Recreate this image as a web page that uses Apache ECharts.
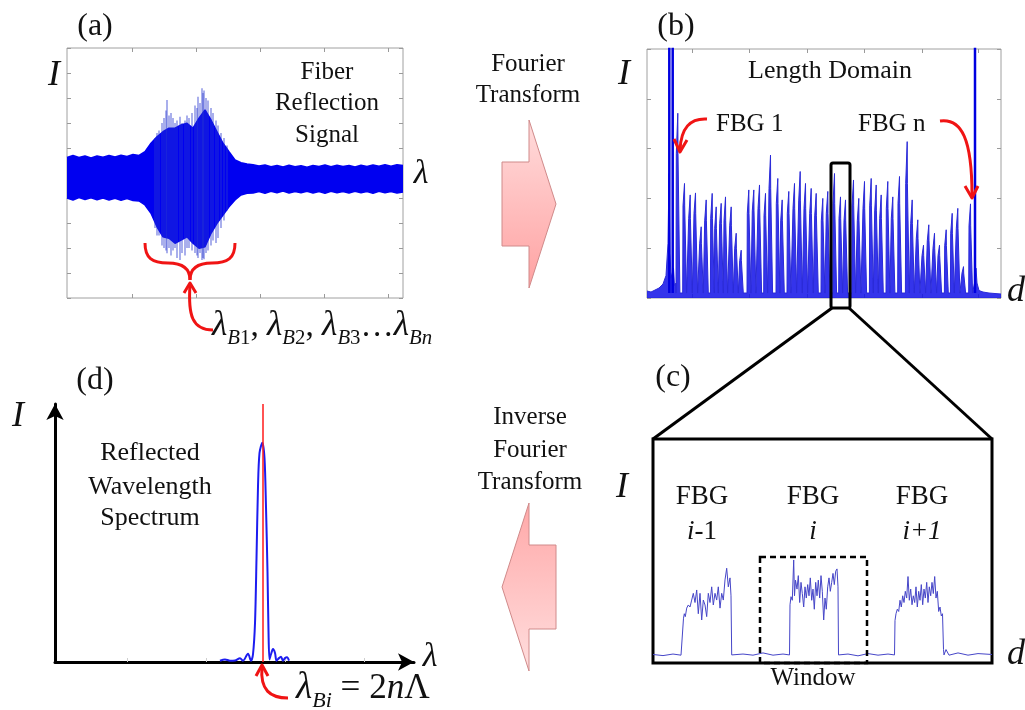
<!DOCTYPE html>
<html>
<head>
<meta charset="utf-8">
<script src="https://cdn.jsdelivr.net/npm/echarts@6/dist/echarts.min.js"></script>
<style>
html,body{margin:0;padding:0;background:#fff}
#main{width:1025px;height:710px}
</style>
</head>
<body>
<div id="main"></div>
<script>
// (a) fiber reflection signal : band envelopes, one value every 6 px along the frame
var aStep = 6
var aUpper = [0.62,0.70,0.62,0.68,0.60,0.68,0.63,0.70,0.64,0.71,0.66,0.74,0.70,
	0.85,1.19,1.45,1.65,1.79,1.79,1.92,1.99,1.79,2.19,2.52,2.12,1.65,1.19,0.85,0.52,0.41,0.36,
	0.33,0.28,0.32,0.25,0.30,0.24,0.31,0.25,0.29,0.23,0.30,0.26,0.32,0.25,0.31,0.26,0.30,0.24,0.31,0.26,0.32,0.27,0.33,0.27,0.33,0.30]
var aLower = [-1.00,-1.08,-0.98,-1.06,-0.99,-1.07,-1.00,-1.08,-1.01,-1.09,-1.02,-1.10,-1.12,
	-1.28,-1.61,-2.15,-2.55,-2.61,-2.81,-2.68,-2.55,-2.81,-3.01,-2.95,-2.41,-2.01,-1.68,-1.35,-1.08,-0.88,-0.81,
	-0.80,-0.74,-0.81,-0.73,-0.79,-0.72,-0.80,-0.74,-0.79,-0.73,-0.80,-0.74,-0.81,-0.73,-0.79,-0.74,-0.80,-0.73,-0.79,-0.74,-0.81,-0.73,-0.79,-0.74,-0.80,-0.76]
// spikes sticking out of the burst
var aSpikeX   = [88,90,92,95,97,99,100,102,104,106,108,110,113,115,118,120,122,125,128,130,131,133,135,136,137,139,141,144,146,149,151,154,157,160]
var aSpikeTop = [1.4,1.6,1.7,2.0,2.2,2.5,2.92,2.3,2.4,2.2,2.0,2.1,2.25,2.0,2.1,2.3,2.2,2.4,2.7,2.6,3.05,2.8,3.39,3.2,3.3,3.0,2.9,2.6,2.4,2.1,1.9,1.6,1.4,1.1]
var aSpikeBot = [-2.2,-2.5,-2.5,-2.9,-3.0,-3.1,-3.21,-3.0,-3.3,-3.1,-3.0,-3.4,-3.48,-3.2,-3.3,-3.0,-3.0,-3.1,-3.2,-3.3,-3.4,-3.2,-3.48,-3.4,-3.45,-3.2,-3.1,-2.9,-2.7,-2.8,-2.6,-2.2,-1.9,-1.5]
var aTicks = [65,129,193,257,321]

// (b) length domain : FBG peaks (position, spike top, plateau level)
var bPeakPos = [31.3,38,43.7,49,54.7,59.7,65.7,69.7,74.7,79,84.7,89.7,94.7,102.3,107.3,113,119,124,131.3,135.7,
	142.3,148,153.7,159,164.7,169.7,176.3,181.3,188,194,199,207,212.3,218,224.7,229.7,234.7,241.3,246.3,253,
	260.7,265.7,271.3,277,282.3,288,293,299.7,305.7,311.3,317,324]
var bSpike = [3.71,2.30,2.07,2.11,1.43,1.97,2.10,1.83,1.90,2.03,1.83,1.30,0.96,2.17,2.17,2.27,2.10,2.87,2.40,1.97,
	2.14,2.30,2.54,2.30,2.20,2.10,2.00,2.14,2.50,2.03,1.97,2.37,2.00,2.34,2.40,2.27,2.07,2.34,2.03,2.44,
	3.14,1.97,1.57,1.06,1.47,1.30,1.06,1.37,1.70,1.80,0.63,1.89]
var bBody = [2.9,1.85,1.6,1.7,1.1,1.55,1.6,1.4,1.5,1.55,1.45,1.0,0.75,1.7,1.75,1.8,1.65,2.2,1.9,1.55,
	1.7,1.8,1.95,1.8,1.7,1.65,1.55,1.7,1.9,1.6,1.55,1.85,1.55,1.8,1.85,1.75,1.6,1.8,1.6,1.9,
	2.3,1.5,1.2,0.85,1.15,1.0,0.85,1.05,1.3,1.4,0.5,1.45]
var bLead = [[0,0.14],[4,0.12],[8,0.16],[12,0.2],[16,0.28],[19,0.45],[21,1.1],[22,2.5],[23,0.9],[24,0.4],[26.5,0.6],[27.5,0.25],[29,0.3]]
var bTail = [[326,0.1],[327.5,0.3],[329,0.6],[330,0.3],[332,0.15],[336,0.12],[342,0.1],[348,0.09],[354,0.08]]
var bEdgePos = [22.3,25.7,328]
var bTicks = [45,102,160,217,275,331]

// (c) zoomed window : three FBG reflections
var cBase1 = [[0,0.38],[10,0.33],[20,0.4],[28,0.35]]
var cPlat1 = [[29.7,0.36],[30.5,2.0],[31.3,2.2],[32.3,2.07],[33.7,2.45],[35.3,2.59],[37,2.5],[38.7,2.81],[40.3,3.11],[42,2.7],
	[43.7,3.26],[45.3,2.2],[47,3.11],[48.7,1.92],[50.3,2.81],[52,2.59],[53.7,2.07],[55.3,3.11],[57,2.7],[58.7,3.4],
	[60.3,2.59],[62,3.11],[63.7,2.81],[65.3,3.4],[67,2.45],[68.7,3.11],[70.3,2.81],[72,3.71],[73.7,4.23],[75.3,3.4],
	[77,3.8],[78,3.0],[78.7,0.36]]
var cBase2 = [[80,0.3],[90,0.4],[100,0.35],[110,0.45],[120,0.35],[130,0.4]]
var cPlat2 = [[136.5,0.36],[137,2.6],[138,2.96],[139.3,2.8],[140.7,4.6],[141.5,3.0],[142.5,3.7],[144,3.3],[145.3,3.9],[146.7,2.7],
	[148,3.6],[149.3,3.1],[150.7,2.5],[152,3.4],[153.3,2.9],[154.7,3.5],[156,3.0],[157.3,3.8],[158.7,2.8],[160,3.3],
	[161.3,2.4],[162.7,3.6],[164,3.0],[165.3,3.7],[166.7,2.9],[168,3.9],[169.3,3.2],[170.7,1.92],[172,2.9],[173.3,2.4],
	[174.7,3.4],[176,3.8],[177.3,3.2],[178.7,3.6],[180,4.0],[181.3,3.5],[182.7,4.1],[184,4.2],[185,3.4],[185.5,0.36]]
var cBase3 = [[187,0.35],[195,0.4],[205,0.32],[215,0.42],[225,0.35],[235,0.4]]
var cPlat3 = [[241.5,0.36],[242,1.9],[243,2.2],[244.3,2.4],[245.7,2.3],[247,2.8],[248.3,2.5],[249.7,3.0],[251,2.7],[252.3,3.2],
	[253.7,2.9],[255,3.86],[256.3,2.8],[257.7,3.3],[259,2.6],[260.3,3.0],[261.7,2.7],[263,3.4],[264.3,2.5],[265.7,3.2],
	[267,2.8],[268.3,3.5],[269.7,2.6],[271,3.3],[272.3,2.9],[273.7,3.6],[275,2.7],[276.3,3.4],[277.7,3.0],[279,3.6],
	[280.3,3.1],[281.7,3.86],[283,2.9],[284.3,3.2],[285.7,2.3],[287,2.5],[288.3,2.1],[289.5,2.2],[290.5,0.6],[291,0.36]]
var cBase4 = [[293,0.6],[296,0.35],[305,0.45],[315,0.35],[325,0.42],[339,0.38]]

// (d) reflected wavelength spectrum
var dCurve = [[165,0.05],[170,0.1],[175,0.05],[180,0.06],[185,0.15],[188,0.05],[193,0.32],[196,0.05],[198,0.3],[200,1.5],
	[201.5,4],[203,6.8],[204.5,8.1],[207.3,8.5],[209.5,7.9],[211,6],[212.5,3.5],[213.5,1.2],[214.5,0.1],[216,0.3],
	[218,0.5],[220,0.35],[221.5,0.05],[224,0.15],[226,0.2],[228,0.05],[230,0.15],[232,0.18],[234,0.05]]
var dBragg = 208
var dTicks = [72,151,230,309]

var SERIF = 'Liberation Serif'
var RED = '#f01414'
var BLUE = '#0000f0'

// build series data
var aUpData = aUpper.map(function(v,i){ return [i*aStep, v] })
var aLoData = aLower.map(function(v,i){ return [i*aStep, v] })
var aSpikeData = []
for(var i=0;i<aSpikeX.length;i++){
	aSpikeData.push([aSpikeX[i],aSpikeBot[i]],[aSpikeX[i],aSpikeTop[i]],[aSpikeX[i],'-'])
}
var bData = bLead.slice()
for(var i=0;i<bPeakPos.length;i++){
	var p = bPeakPos[i]
	bData.push([p-2.3,0.1],[p-2.0,bBody[i]],[p-0.7,bBody[i]],[p-0.5,bSpike[i]],[p-0.3,bBody[i]],[p+1.3,bBody[i]],[p+1.6,0.1])
}
bData = bData.concat(bTail)
var bEdgeData = []
bEdgePos.forEach(function(p){ bEdgeData.push([p,0.1],[p,6],[p,'-']) })
var cData = [].concat(cBase1,cPlat1,cBase2,cPlat2,cBase3,cPlat3,cBase4)

// annotations
var graphics = []
function txt(x,y,s,size,italic,align){
	graphics.push({type:'text',x:x,y:y,z:100,style:{text:s,fontSize:size,fontFamily:SERIF,
		fontStyle:italic?'italic':'normal',fill:'#111',align:align||'center',verticalAlign:'middle',
		textAlign:align||'center',textVerticalAlign:'middle'}})
}
function rtxt(x,y,s,align,big){
	var k = big || 1
	graphics.push({type:'text',x:x,y:y,z:100,style:{text:s,fill:'#111',align:align||'left',verticalAlign:'middle',
		textAlign:align||'left',textVerticalAlign:'middle',fontFamily:SERIF,
		rich:{
			l:{fontSize:34*k,fontStyle:'italic',fontFamily:SERIF,verticalAlign:'bottom'},
			s:{fontSize:20*k,fontStyle:'italic',fontFamily:SERIF,verticalAlign:'bottom',padding:[0,0,-6,0]},
			u:{fontSize:20*k,fontFamily:SERIF,verticalAlign:'bottom',padding:[0,0,-6,0]},
			c:{fontSize:32*k,fontFamily:SERIF,verticalAlign:'bottom'},
			n:{fontSize:32*k,fontStyle:'italic',fontFamily:SERIF,verticalAlign:'bottom'},
			i:{fontSize:27,fontStyle:'italic',fontFamily:SERIF},
			r:{fontSize:27,fontFamily:SERIF}
		}}})
}
function curve(p,color,w){
	graphics.push({type:'bezierCurve',z:100,shape:{x1:p[0],y1:p[1],cpx1:p[2],cpy1:p[3],cpx2:p[4],cpy2:p[5],x2:p[6],y2:p[7]},
		style:{stroke:color||RED,lineWidth:w||3,fill:null}})
}
function pline(pts,color,w,dash){
	graphics.push({type:'polyline',z:100,shape:{points:pts},style:{stroke:color||RED,lineWidth:w||3,fill:null,lineDash:dash||null,lineJoin:'round'}})
}

// (a)
txt(95,27,'(a)',32)
txt(54,76,'I',36,true)
txt(327,72,'Fiber',25); txt(327,103,'Reflection',25); txt(327,135,'Signal',25)
txt(421,174,'λ',34,true)
curve([145,243,145,258,152,263,168,263])
curve([168,263,184,263,190,270,190,280])
curve([235,243,235,258,228,263,212,263])
curve([212,263,196,263,190,270,190,280])
pline([[184,293],[190,283],[196,293]])
curve([190,285,188,315,192,330,213,330])
rtxt(212,326,'{l|λ}{s|B}{u|1}{c|, }{l|λ}{s|B}{u|2}{c|, }{l|λ}{s|B}{u|3}{c|…}{l|λ}{s|Bn}','left',1.04)

// transforms
txt(528,64,'Fourier',25); txt(528,95,'Transform',25)
txt(530,417,'Inverse',25); txt(530,450,'Fourier',25); txt(530,482,'Transform',25)
graphics.push({type:'polygon',z:20,shape:{points:[[502,162],[529,162],[529,120],[556,204],[529,288],[529,246],[502,246]]},
	style:{fill:{type:'linear',x:0,y:0,x2:0,y2:1,colorStops:[{offset:0,color:'#ffdcdc'},{offset:1,color:'#ffa2a2'}]},stroke:'#d08a8a',lineWidth:1}})
graphics.push({type:'polygon',z:20,shape:{points:[[556,545],[529,545],[529,503],[502,587],[529,671],[529,629],[556,629]]},
	style:{fill:{type:'linear',x:0,y:0,x2:0,y2:1,colorStops:[{offset:0,color:'#ffa8a8'},{offset:1,color:'#ffdede'}]},stroke:'#d08a8a',lineWidth:1}})

// (b)
txt(676,27,'(b)',32)
txt(624,75,'I',36,true)
txt(830,71,'Length Domain',26)
txt(716,124,'FBG 1',25,false,'left')
txt(858,124,'FBG n',25,false,'left')
txt(1016,292,'d',36,true)
curve([707,119,690,118,681,128,680,150])
pline([[674,139],[680,152],[687,140]])
curve([940,121,962,118,972,140,972,195])
pline([[965,186],[972,198],[978,186]])
graphics.push({type:'rect',z:110,shape:{x:831,y:163,width:19,height:145,r:2},style:{stroke:'#000',lineWidth:3,fill:null}})
pline([[653,439],[832,308]],'#000',3)
pline([[992,439],[849,308]],'#000',3)

// (c)
txt(673,378,'(c)',32)
txt(622,488,'I',36,true)
txt(702,497,'FBG',27); txt(813,497,'FBG',27); txt(922,497,'FBG',27)
rtxt(702,532,'{i|i}{r|-1}','center')
rtxt(813,532,'{i|i}','center')
rtxt(922,532,'{i|i+1}','center')
txt(813,678,'Window',25)
txt(1016,655,'d',36,true)
graphics.push({type:'rect',z:110,shape:{x:760,y:557,width:107,height:106},style:{stroke:'#000',lineWidth:2.5,fill:null,lineDash:[6,4]}})

// (d)
txt(95,381,'(d)',32)
txt(18,417,'I',36,true)
txt(150,453,'Reflected',26); txt(150,487,'Wavelength',26); txt(150,518,'Spectrum',26)
txt(430,657,'λ',34,true)
pline([[256,676],[262,665],[268,676]])
curve([262,667,260,690,270,698,288,698])
rtxt(296,688,'{l|λ}{s|Bi}{c| = 2}{n|n}{c|Λ}','left',1.1)

function frameAxis(pos,grid,min,max,extra){
	var ax = {type:'value',gridIndex:grid,position:pos,min:min,max:max,
		axisLine:{show:false,onZero:false},axisLabel:{show:false},splitLine:{show:false},
		axisTick:{show:true,inside:true,length:4,lineStyle:{color:'#9a9a9a'}}}
	for(var k in extra){ ax[k] = extra[k] }
	return ax
}
function ticks(vals){ return {show:true,inside:true,length:4,customValues:vals,lineStyle:{color:'#9a9a9a'}} }

var chart = echarts.init(document.getElementById('main'),null,{renderer:'canvas'})
chart.setOption({
	animation:false,
	backgroundColor:'#fff',
	grid:[
		{left:67,top:48,width:336,height:250,show:true,borderColor:'#a0a0a0',borderWidth:1},
		{left:647,top:49,width:354,height:249,show:true,borderColor:'#a0a0a0',borderWidth:1},
		{left:653,top:439,width:339,height:224,show:true,borderColor:'#000',borderWidth:3},
		{left:55,top:404,width:359,height:258}
	],
	xAxis:[
		frameAxis('bottom',0,0,336,{axisTick:ticks(aTicks)}),
		frameAxis('top',0,0,336,{axisTick:ticks(aTicks)}),
		frameAxis('bottom',1,0,354,{axisTick:ticks(bTicks)}),
		frameAxis('top',1,0,354,{axisTick:ticks(bTicks)}),
		frameAxis('bottom',2,0,339,{axisTick:{show:false}}),
		{type:'value',gridIndex:3,min:0,max:359,axisLabel:{show:false},splitLine:{show:false},
			axisTick:{show:true,inside:true,length:4,customValues:dTicks,lineStyle:{color:'#cfcfcf'}},
			axisLine:{show:true,onZero:false,symbol:['none','arrow'],symbolSize:[13,16],lineStyle:{color:'#000',width:3}}}
	],
	yAxis:[
		frameAxis('left',0,-5,5,{interval:1}),
		frameAxis('right',0,-5,5,{interval:1}),
		frameAxis('left',1,0,5,{interval:1}),
		frameAxis('right',1,0,5,{interval:1}),
		frameAxis('left',2,0,10,{axisTick:{show:false}}),
		{type:'value',gridIndex:3,min:0,max:10,axisLabel:{show:false},splitLine:{show:false},axisTick:{show:false},
			axisLine:{show:true,onZero:false,symbol:['none','arrow'],symbolSize:[13,16],lineStyle:{color:'#000',width:3}}}
	],
	series:[
		{type:'line',xAxisIndex:0,yAxisIndex:0,data:aUpData,symbol:'none',lineStyle:{color:BLUE,width:1.5},areaStyle:{color:BLUE,opacity:1}},
		{type:'line',xAxisIndex:0,yAxisIndex:0,data:aLoData,symbol:'none',lineStyle:{color:BLUE,width:1.5},areaStyle:{color:BLUE,opacity:1}},
		{type:'line',xAxisIndex:0,yAxisIndex:0,data:aSpikeData,symbol:'none',lineStyle:{color:'#2838d0',width:1,opacity:0.8}},
		{type:'line',xAxisIndex:2,yAxisIndex:2,data:bData,symbol:'none',lineStyle:{color:'#2a2ad8',width:1},areaStyle:{color:'#1010e8',opacity:0.85}},
		{type:'line',xAxisIndex:2,yAxisIndex:2,data:bEdgeData,symbol:'none',lineStyle:{color:'#0000e0',width:2.5}},
		{type:'line',xAxisIndex:4,yAxisIndex:4,data:cData,symbol:'none',lineStyle:{color:'#4646c8',width:1}},
		{type:'line',xAxisIndex:5,yAxisIndex:5,data:dCurve,symbol:'none',smooth:0.3,lineStyle:{color:'#1c1cf0',width:2}},
		{type:'line',xAxisIndex:5,yAxisIndex:5,data:[[dBragg,0],[dBragg,10]],symbol:'none',lineStyle:{color:'#ff1a1a',width:1.5}}
	],
	graphic:{elements:graphics}
})
</script>
</body>
</html>
